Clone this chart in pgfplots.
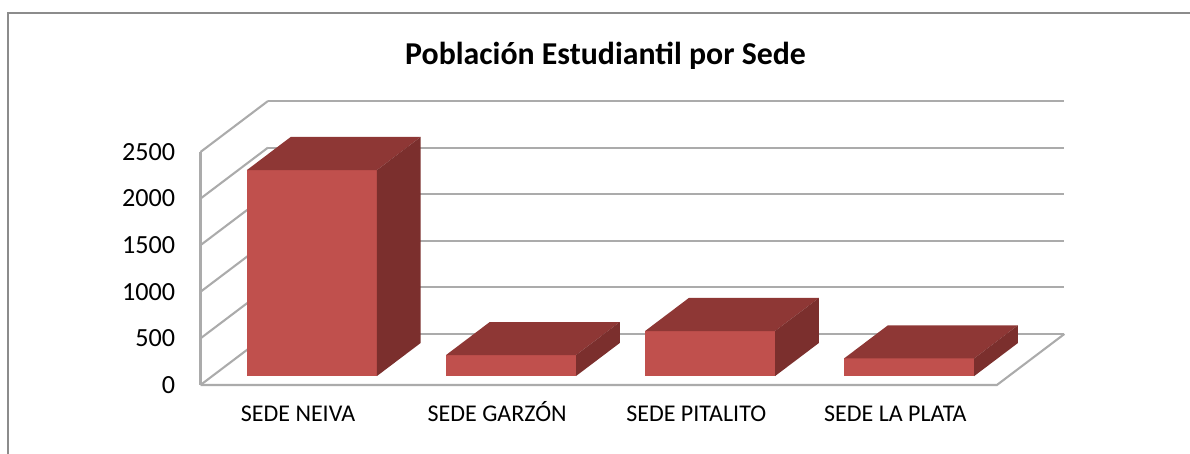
\documentclass[border=0pt]{standalone}
\usepackage{pgfplots}
\pgfplotsset{compat=1.18}
\usepackage{fontspec}
\setmainfont{Carlito}
\definecolor{barfront}{HTML}{C0504D}
\definecolor{bartop}{HTML}{8E3735}
\definecolor{barside}{HTML}{7B2F2D}
\definecolor{wallgray}{HTML}{ABABAB}
\definecolor{framegray}{HTML}{8C8C8C}
% x0, x1, value : one 3-D column, depth from 0.176 to 0.824
\newcommand{\sedebar}[3]{%
  \addplot3[fill=barfront,draw=none,no marks] coordinates {(#1,0.176,0)(#2,0.176,0)(#2,0.176,#3)(#1,0.176,#3)};
  \addplot3[fill=bartop,draw=none,no marks] coordinates {(#1,0.176,#3)(#2,0.176,#3)(#2,0.824,#3)(#1,0.824,#3)};
  \addplot3[fill=barside,draw=none,no marks] coordinates {(#2,0.176,0)(#2,0.824,0)(#2,0.824,#3)(#2,0.176,#3)};
}
\begin{document}
\begin{tikzpicture}
\path[use as bounding box] (0pt,0pt) rectangle (714pt,272.4pt);
\begin{scope}[x=0.6pt,y=-0.6pt,shift={(0pt,272.4pt)}]
\draw[framegray,line width=1.1pt] (8,454) -- (8,13) -- (1190,13);
\node[font=\bfseries\fontsize{19.1pt}{22pt}\selectfont] at (605.5,56) {Población Estudiantil por Sede};
\end{scope}
\begin{axis}[
  anchor=origin, at={(120.3pt,41.4pt)},
  x={(119.46pt,0pt)}, y={(40.5pt,30.6pt)}, z={(0pt,0.05592pt)},
  xmin=0,xmax=4,ymin=0,ymax=1,zmin=0,zmax=2500,
  clip=false,
  axis line style={draw=none},
  major tick length=0pt,
  ytick=\empty,
  xtick={0.5,1.5,2.5,3.5},
  xticklabels={SEDE NEIVA,SEDE GARZÓN,SEDE PITALITO,SEDE LA PLATA},
  ztick={0,500,1000,1500,2000,2500},
  /pgf/number format/assume math mode=true,
  /pgf/number format/1000 sep={},
  xticklabel style={font=\fontsize{14.4pt}{17pt}\selectfont,anchor=base,xshift=-1.2pt,yshift=-22.2pt},
  zticklabel style={font=\fontsize{15.7pt}{18pt}\selectfont,anchor=east,xshift=-11.7pt},
  zmajorgrids=true,
  grid style={wallgray,line width=1.25pt},
]
\addplot3[wallgray,line width=1.25pt,no marks] coordinates {(0,0,0)(0,0,2500)};
\addplot3[wallgray,line width=1.25pt,no marks] coordinates {(0,0,0)(4,0,0)(4,1,0)};
\sedebar{0.1735}{0.8265}{2210}
\sedebar{1.1735}{1.8265}{225}
\sedebar{2.1735}{2.8265}{483}
\sedebar{3.1735}{3.8265}{190}
\end{axis}
\end{tikzpicture}
\end{document}
